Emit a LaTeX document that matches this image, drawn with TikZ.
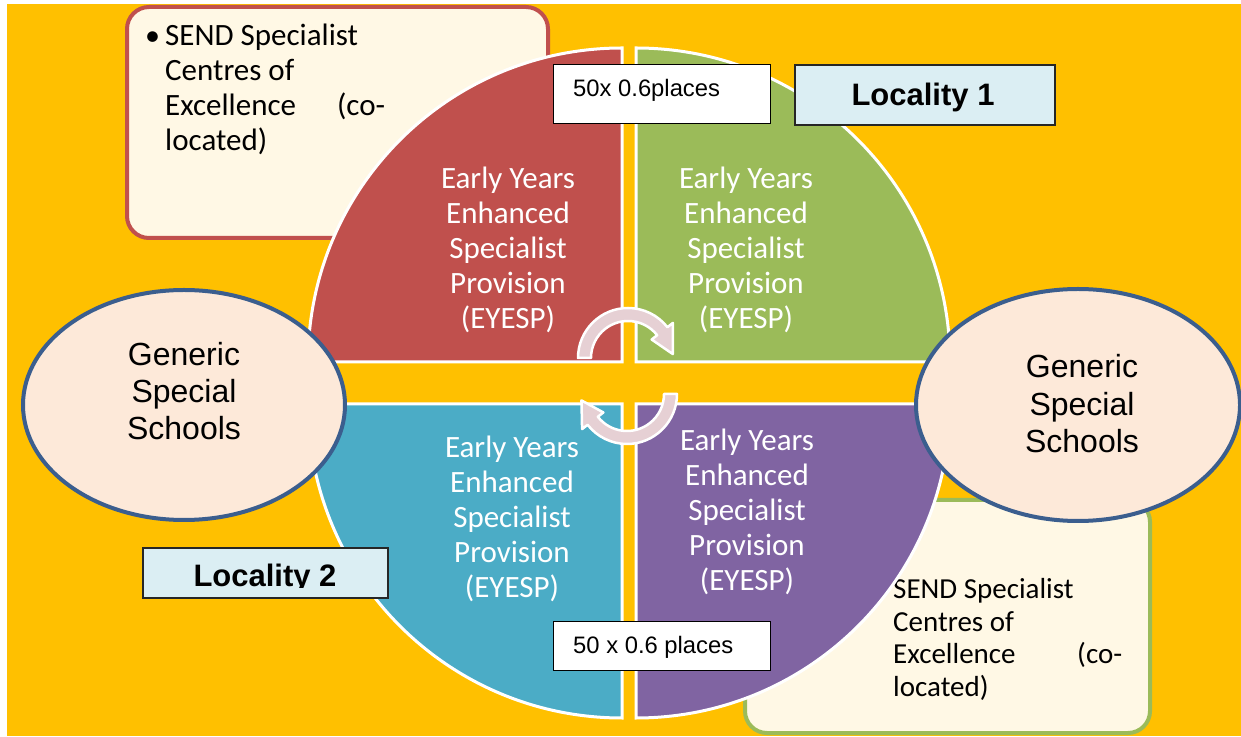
\documentclass[tikz,border=0pt]{standalone}
\usepackage{fontspec}
\setmainfont{Carlito}
\newfontfamily\arialf{Liberation Sans}
\definecolor{orangebg}{HTML}{FFC000}
\definecolor{redq}{HTML}{C0504D}
\definecolor{greenq}{HTML}{9BBB59}
\definecolor{blueq}{HTML}{4BACC6}
\definecolor{purpleq}{HTML}{8064A2}
\definecolor{cream}{HTML}{FFF8E5}
\definecolor{peach}{HTML}{FDE9D9}
\definecolor{ellborder}{HTML}{3B5E8E}
\definecolor{locfill}{HTML}{DBEEF3}
\definecolor{arrowfill}{HTML}{E6D0D4}
\tikzset{
  quad/.style={draw=white, line width=3pt},
  qtext/.style={anchor=base, inner sep=0pt, text=white},
  sendbox/.style={line width=4pt, fill=cream, rounded corners=22pt},
  sendtext/.style={anchor=base west, inner sep=0pt, text=black},
  ellshape/.style={draw=ellborder, fill=peach, line width=4pt},
  elltext/.style={anchor=base, inner sep=0pt, text=black},
  placebox/.style={draw=black, fill=white, line width=1pt},
  placetext/.style={anchor=base west, inner sep=0pt, font=\arialf\fontsize{23.8}{28}\selectfont},
  locbox/.style={draw=black!85, fill=locfill, line width=1.2pt},
  loctext/.style={anchor=base, inner sep=0pt, font=\arialf\bfseries\fontsize{31}{36}\selectfont},
  circarrow/.style={fill=arrowfill, draw=white, line width=2.5pt, line join=round},
}
\newcommand{\qlines}{\parbox[t]{220pt}{\centering\fontsize{31}{35}\selectfont Early Years\\Enhanced\\Specialist\\Provision\\(EYESP)}}
\begin{document}
\begin{tikzpicture}[x=1pt,y=1pt]
\useasboundingbox (0,0) rectangle (1241,736);
\fill[white] (0,0) rectangle (1241,736);
\fill[orangebg] (7,0) rectangle (1241,732);

% SEND boxes
\draw[sendbox, draw=redq] (127,498) rectangle (548,729);
\node[sendtext] (b1) at (145,690) {\fontsize{30}{35}\selectfont\textbullet};
\node[sendtext] (s1) at (165,690) {\parbox[t]{220pt}{\raggedright\fontsize{31}{34.7}\selectfont SEND Specialist\\Centres of\\Excellence\hfill(co-\\located)}};

\draw[sendbox, draw=greenq] (745,3) rectangle (1150,236);
\node[sendtext] (b2) at (875,137) {\fontsize{28}{32}\selectfont\textbullet};
\node[sendtext] (s2) at (893,137) {\parbox[t]{229pt}{\raggedright\fontsize{29}{32.5}\selectfont SEND Specialist\\Centres of\\Excellence\hfill(co-\\located)}};

% quadrants
\draw[quad, fill=redq] (622,374) -- ++(-314,0) arc[start angle=180, end angle=90, radius=314] -- cycle;
\draw[quad, fill=greenq] (636,374) -- ++(0,314) arc[start angle=90, end angle=0, radius=314] -- cycle;
\draw[quad, fill=blueq] (622,332) -- ++(-314,0) arc[start angle=180, end angle=270, radius=314] -- cycle;
\draw[quad, fill=purpleq] (636,332) -- ++(314,0) arc[start angle=0, end angle=-90, radius=314] -- cycle;

\node[qtext] (q1) at (508,547) {\qlines};
\node[qtext] (q2) at (746,547) {\qlines};
\node[qtext] (q3) at (512,278) {\qlines};
\node[qtext] (q4) at (747,285) {\qlines};

% circular arrows
\draw[circarrow, shift={(628,378)}] (180:50) arc[start angle=180, end angle=38, radius=50] -- (38:57) -- (5:45) -- (38:30) -- (38:37) arc[start angle=38, end angle=180, radius=37] -- cycle;
\draw[circarrow, shift={(627,342)}] (0:50) arc[start angle=0, end angle=-142, radius=50] -- (-142:57) -- (-172:46) -- (-142:30) -- (-142:37) arc[start angle=-142, end angle=0, radius=37] -- cycle;

% ellipses
\draw[ellshape] (184,331) ellipse [x radius=161, y radius=115];
\node[elltext] (gl) at (184,370) {\parbox[t]{250pt}{\centering\arialf\fontsize{32}{37}\selectfont Generic\\Special\\Schools}};
\draw[ellshape] (1078,331) ellipse [x radius=162, y radius=116];
\node[elltext] (gr) at (1082,358) {\parbox[t]{250pt}{\centering\arialf\fontsize{32}{37.5}\selectfont Generic\\Special\\Schools}};

% places boxes
\draw[placebox] (553,612) rectangle (770,671);
\node[placetext] (p1) at (573,639) {50x 0.6places};
\draw[placebox] (553,66) rectangle (770,115);
\node[placetext] (p2) at (573,83) {50 x 0.6 places};

% locality boxes
\draw[locbox] (795,611) rectangle (1055,671);
\node[loctext] (l1) at (923,630) {Locality 1};
\draw[locbox] (143,138) rectangle (388,188);
\begin{scope}
\clip (143,148) rectangle (388,188);
\node[loctext] (l2) at (265,149.5) {Locality 2};
\end{scope}
\end{tikzpicture}
\end{document}
